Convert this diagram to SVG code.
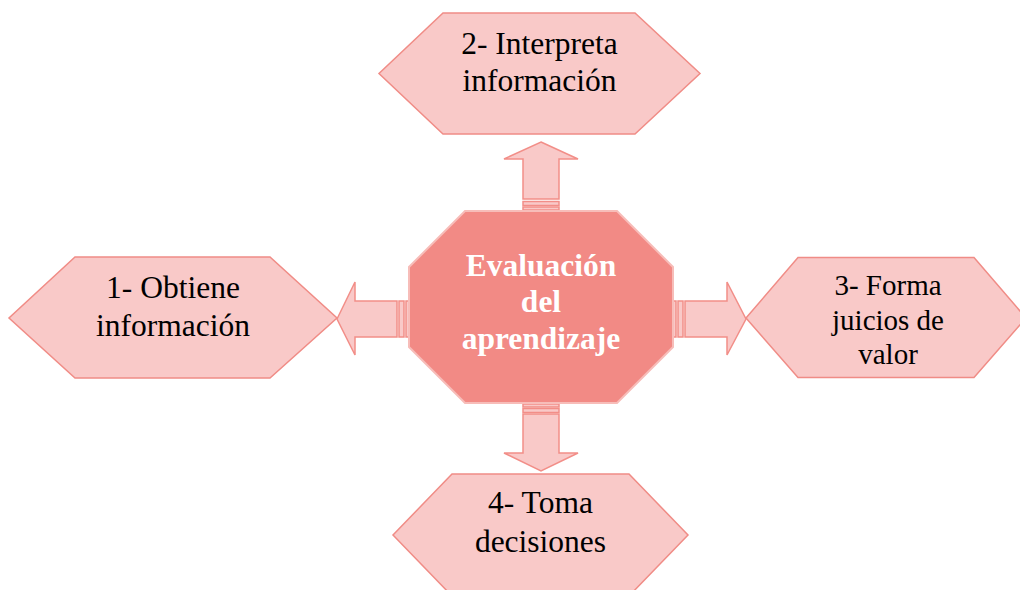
<svg xmlns="http://www.w3.org/2000/svg" width="1020" height="590" viewBox="0 0 1020 590">
<style>
.hex{fill:#F9C9C8;stroke:#F08C86;stroke-width:1.5}
.arr{fill:#F9C9C8;stroke:#F28E88;stroke-width:1.5}
.oct{fill:#F28A85;stroke:#F7BDB9;stroke-width:2}
.t{font-size:31.5px;fill:#000;text-anchor:middle}
.ts{font-size:29px}
.c{font-size:31.5px;font-weight:bold;fill:#fff;text-anchor:middle}
</style>
<rect width="1020" height="590" fill="#fff"/>
<g id="connectors">
  <g id="arrow-up">
    <polygon class="arr" points="541,142 578,159 559,159 559,199 523,199 523,159 504,159"/>
    <rect class="arr" x="523" y="201.5" width="36" height="4"/>
    <rect class="arr" x="523" y="207" width="36" height="3"/>
  </g>
  <g id="arrow-down">
    <rect class="arr" x="523" y="404" width="36" height="3"/>
    <rect class="arr" x="523" y="408.5" width="36" height="4"/>
    <polygon class="arr" points="523,414 559,414 559,453 578,453 541,471 504,453 523,453"/>
  </g>
  <g id="arrow-left">
    <polygon class="arr" points="337,319 355,282 355,301 397,301 397,337 355,337 355,355"/>
    <rect class="arr" x="399" y="301" width="5" height="36"/>
    <rect class="arr" x="406" y="301" width="3" height="36"/>
  </g>
  <g id="arrow-right">
    <rect class="arr" x="673" y="301" width="3" height="36"/>
    <rect class="arr" x="678" y="301" width="5" height="36"/>
    <polygon class="arr" points="685,301 727,301 727,282 746,319 727,355 727,337 685,337"/>
  </g>
</g>
<g font-family="'Liberation Serif', 'DejaVu Serif', serif">
<g id="node-top">
  <polygon class="hex" points="443,13 635,13 700,73.5 635,134 443,134 379,73.5"/>
  <text class="t" x="539.5" y="54">2- Interpreta</text>
  <text class="t" x="539.5" y="90.5">información</text>
</g>
<g id="node-left">
  <polygon class="hex" points="75,257 270,257 337,318 270,378 75,378 9,318"/>
  <text class="t" x="173" y="298">1- Obtiene</text>
  <text class="t" x="173" y="336">información</text>
</g>
<g id="node-right">
  <polygon class="hex" points="798,257.5 974,257.5 1026,318 974,377.5 798,377.5 746,318"/>
  <text class="t ts" x="888" y="295">3- Forma</text>
  <text class="t ts" x="888" y="330">juicios de</text>
  <text class="t ts" x="888" y="363.5">valor</text>
</g>
<g id="node-bottom">
  <polygon class="hex" points="452,474 629,474 688,535 629,596 452,596 393,535"/>
  <text class="t" x="540.5" y="513">4- Toma</text>
  <text class="t" x="540.5" y="551.5">decisiones</text>
</g>
<g id="node-center">
  <polygon class="oct" points="465,211 617,211 673,267 673,347 617,403 465,403 409,347 409,267"/>
  <text class="c" x="541" y="276">Evaluación</text>
  <text class="c" x="541" y="312">del</text>
  <text class="c" x="541" y="349">aprendizaje</text>
</g>
</g>
</svg>
